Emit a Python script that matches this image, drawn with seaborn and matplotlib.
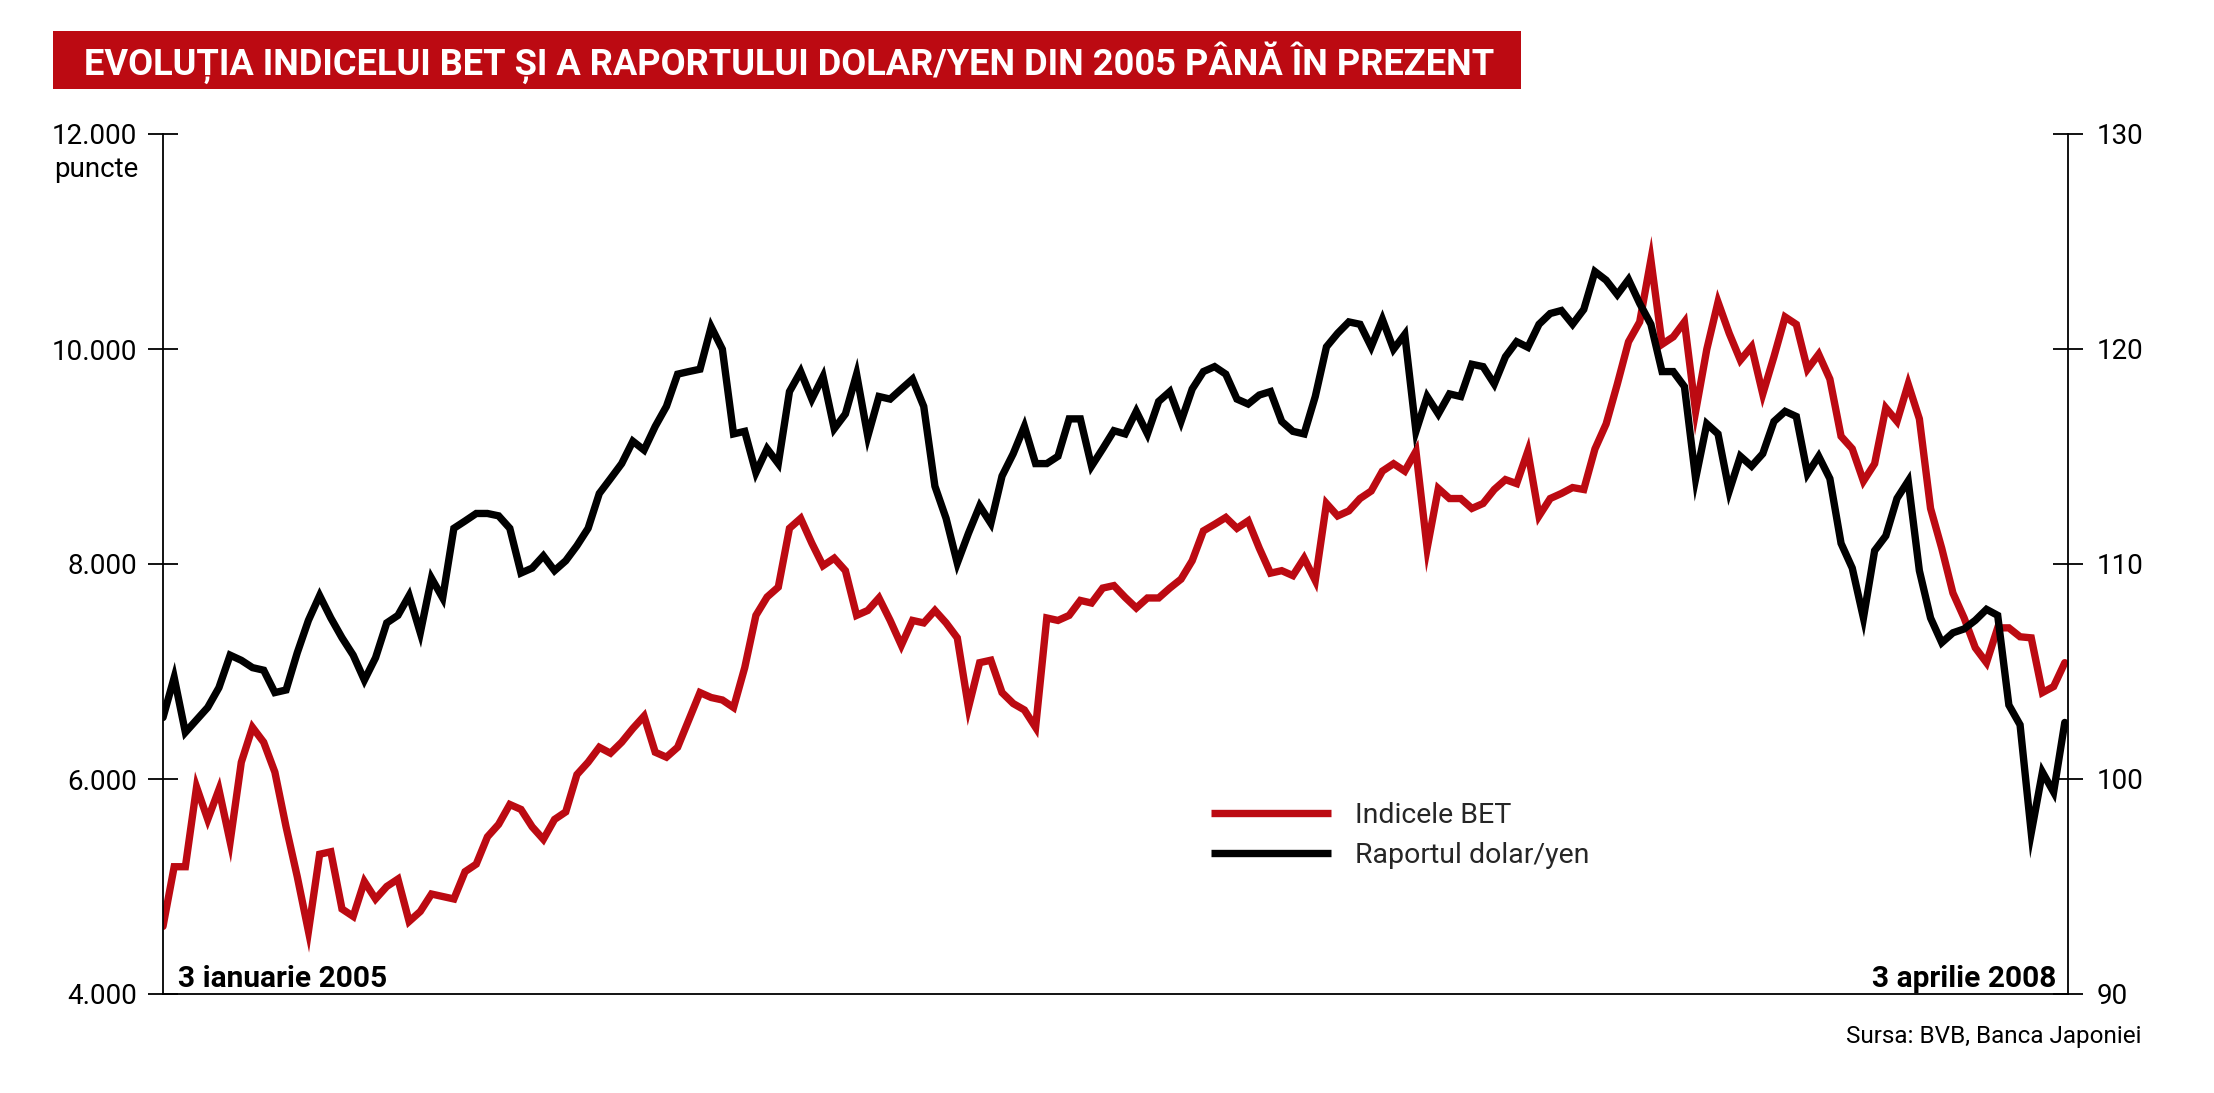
import numpy as np
import pandas as pd
import matplotlib
matplotlib.use("Agg")
import matplotlib.pyplot as plt
import seaborn as sns
from matplotlib import font_manager as fm
from matplotlib.patches import Rectangle

# ---------------- data (weekly from 3 Jan 2005) ----------------
START = "2005-01-03"

bet_values = [
    4629, 5184, 5184, 5925, 5624, 5902, 5416, 6156, 6480, 6342,
    6064, 5555, 5092, 4583, 5300, 5323, 4791, 4722, 5046, 4884,
    5000, 5069, 4675, 4768, 4930, 4907, 4884, 5138, 5208, 5462,
    5578, 5763, 5717, 5555, 5439, 5624, 5694, 6041, 6156, 6295,
    6240, 6342, 6470, 6585, 6249, 6203, 6295, 6550, 6804, 6758,
    6735, 6665, 7036, 7522, 7693, 7785, 8332, 8424, 8193, 7984,
    8054, 7938, 7522, 7568, 7684, 7475, 7244, 7475, 7452, 7568,
    7452, 7313, 6665, 7082, 7105, 6804, 6702, 6642, 6480, 7498,
    7475, 7522, 7661, 7637, 7776, 7799, 7690, 7591, 7684, 7684,
    7776, 7859, 8031, 8308, 8369, 8433, 8332, 8401, 8146, 7915,
    7938, 7892, 8054, 7846, 8563, 8447, 8494, 8609, 8679, 8864,
    8933, 8864, 9049, 8146, 8702, 8609, 8609, 8517, 8563, 8693,
    8785, 8748, 9049, 8447, 8609, 8656, 8711, 8693, 9070, 9303,
    9674, 10067, 10252, 10830, 10044, 10113, 10252, 9419, 9998, 10437,
    10146, 9896, 10021, 9581, 9928, 10298, 10229, 9812, 9951, 9720,
    9188, 9072, 8771, 8933, 9452, 9327, 9674, 9350, 8517, 8146,
    7730, 7498, 7221, 7082, 7406, 7406, 7323, 7313, 6804, 6860,
    7082,
]

yen_values = [
    102.86, 104.72, 102.17, 102.75, 103.33, 104.25, 105.76, 105.52, 105.18, 105.06,
    104.02, 104.14, 105.87, 107.38, 108.53, 107.49, 106.57, 105.76, 104.60, 105.64,
    107.26, 107.61, 108.53, 106.80, 109.34, 108.42, 111.66, 112.00, 112.35, 112.35,
    112.24, 111.66, 109.58, 109.81, 110.38, 109.69, 110.15, 110.85, 111.66, 113.28,
    113.97, 114.67, 115.71, 115.30, 116.40, 117.33, 118.83, 118.95, 119.06, 121.03,
    119.99, 116.05, 116.17, 114.25, 115.36, 114.67, 118.02, 118.95, 117.67, 118.72,
    116.29, 116.98, 118.83, 115.94, 117.79, 117.67, 118.14, 118.60, 117.33, 113.62,
    112.12, 110.04, 111.43, 112.70, 111.89, 114.09, 115.13, 116.40, 114.67, 114.67,
    115.01, 116.75, 116.75, 114.55, 115.36, 116.20, 116.05, 117.10, 116.05, 117.56,
    118.02, 116.63, 118.14, 118.95, 119.18, 118.83, 117.67, 117.44, 117.86, 118.02,
    116.63, 116.17, 116.05, 117.79, 120.10, 120.73, 121.26, 121.15, 120.10, 121.38,
    119.99, 120.68, 116.17, 117.79, 116.98, 117.91, 117.79, 119.29, 119.18, 118.37,
    119.64, 120.34, 120.08, 121.15, 121.65, 121.79, 121.15, 121.84, 123.60, 123.20,
    122.53, 123.23, 122.12, 121.15, 118.95, 118.95, 118.25, 113.97, 116.52, 116.05,
    113.39, 115.01, 114.55, 115.13, 116.63, 117.10, 116.86, 114.20, 115.01, 113.97,
    110.96, 109.81, 107.49, 110.62, 111.31, 113.05, 113.86, 109.69, 107.49, 106.34,
    106.80, 106.98, 107.38, 107.89, 107.61, 103.44, 102.52, 97.50, 100.32, 99.39,
    102.63,
]

left_ticks = [4000, 6000, 8000, 10000, 12000]
left_labels = ["4.000", "6.000", "8.000", "10.000", "12.000"]
right_ticks = [90, 100, 110, 120, 130]
right_labels = ["90", "100", "110", "120", "130"]
series_labels = ["Indicele BET", "Raportul dolar/yen"]

TITLE = "EVOLUȚIA INDICELUI BET ȘI A RAPORTULUI DOLAR/YEN DIN 2005 PÂNĂ ÎN PREZENT"
UNIT = "puncte"
DATE_START = "3 ianuarie 2005"
DATE_END = "3 aprilie 2008"
SOURCE = "Sursa: BVB, Banca Japoniei"

# ---------------- styling ----------------
RED = "#BC0A12"
W, H = 2214, 1093

sns.set_theme(style="white")
names = {f.name for f in fm.fontManager.ttflist}
NARROW = "Liberation Sans Narrow" if "Liberation Sans Narrow" in names else "Roboto"
plt.rcParams["font.family"] = [NARROW, "DejaVu Sans"]

dates = pd.date_range(START, periods=len(bet_values), freq="7D")
df = pd.DataFrame({"data": dates, "BET": bet_values, "USDJPY": yen_values})

fig = plt.figure(figsize=(W / 100, H / 100), dpi=100)
fig.patch.set_facecolor("white")
ax = fig.add_axes([163 / W, 1 - 994 / H, (2068 - 163) / W, (994 - 134) / H])
ax2 = ax.twinx()

LW = 5.3
sns.lineplot(data=df, x="data", y="BET", ax=ax, color=RED, linewidth=LW,
             label=series_labels[0], solid_joinstyle="miter")
sns.lineplot(data=df, x="data", y="USDJPY", ax=ax2, color="black", linewidth=LW,
             label=series_labels[1], solid_joinstyle="miter")

for a in (ax, ax2):
    if a.get_legend() is not None:
        a.get_legend().remove()
    a.set_xlabel("")
    a.set_ylabel("")
    a.grid(False)

ax.set_xlim(dates[0], dates[-1] + pd.Timedelta(days=2))
ax.set_ylim(4000, 12000)
ax2.set_ylim(90, 130)
ax.set_xticks([])
ax.set_yticks(left_ticks, left_labels)
ax2.set_yticks(right_ticks, right_labels)

SPW = 1.3
for s in ("top", "right"):
    ax.spines[s].set_visible(False)
for s in ("left", "bottom"):
    ax.spines[s].set_visible(True)
    ax.spines[s].set_color("black")
    ax.spines[s].set_linewidth(SPW)
for s in ("top", "left", "bottom"):
    ax2.spines[s].set_visible(False)
ax2.spines["right"].set_visible(True)
ax2.spines["right"].set_color("black")
ax2.spines["right"].set_linewidth(SPW)

ax.tick_params(axis="y", direction="inout", length=21, width=SPW, pad=8,
               labelsize=20, colors="black", left=True)
ax2.tick_params(axis="y", direction="inout", length=21, width=SPW, pad=10,
                labelsize=20, colors="black", right=True)

# legend
h1, l1 = ax.get_legend_handles_labels()
h2, l2 = ax2.get_legend_handles_labels()
LFS = 20.5
leg = ax2.legend(h1 + h2, l1 + l2, loc="upper left",
                 bbox_to_anchor=(1211 / W, 1 - 802 / H), bbox_transform=fig.transFigure,
                 frameon=False, fontsize=LFS, handlelength=4.21, handletextpad=0.84,
                 labelspacing=0.45, borderpad=0, borderaxespad=0)
for ln in leg.get_lines():
    ln.set_linewidth(LW)
    ln.set_solid_capstyle("butt")

# title bar
fig.add_artist(Rectangle((53 / W, 1 - 89 / H), (1521 - 53) / W, (89 - 31) / H,
                         transform=fig.transFigure, facecolor=RED, edgecolor="none"))
title = fig.text(789 / W, 1 - 75 / H, TITLE, ha="center", va="baseline",
                 color="white", fontsize=24, fontweight="bold",
                 family=[NARROW, "DejaVu Sans"])

fig.text(138 / W, 1 - 177 / H, UNIT, ha="right", va="baseline", fontsize=20, color="black")
fig.text(178 / W, 1 - 987 / H, DATE_START, ha="left", va="baseline", fontsize=21.5,
         fontweight="bold", family=["Roboto", "DejaVu Sans"], color="black")
fig.text(2056 / W, 1 - 987 / H, DATE_END, ha="right", va="baseline", fontsize=21.5,
         fontweight="bold", family=["Roboto", "DejaVu Sans"], color="black")
fig.text(2141 / W, 1 - 1043 / H, SOURCE, ha="right", va="baseline", fontsize=17.5, color="black")

# fit title width to the reference
fig.canvas.draw()
r = fig.canvas.get_renderer()
w = title.get_window_extent(r).width
title.set_fontsize(title.get_fontsize() * 1414 / w)

fig.savefig("out.png", dpi=100, facecolor="white")
